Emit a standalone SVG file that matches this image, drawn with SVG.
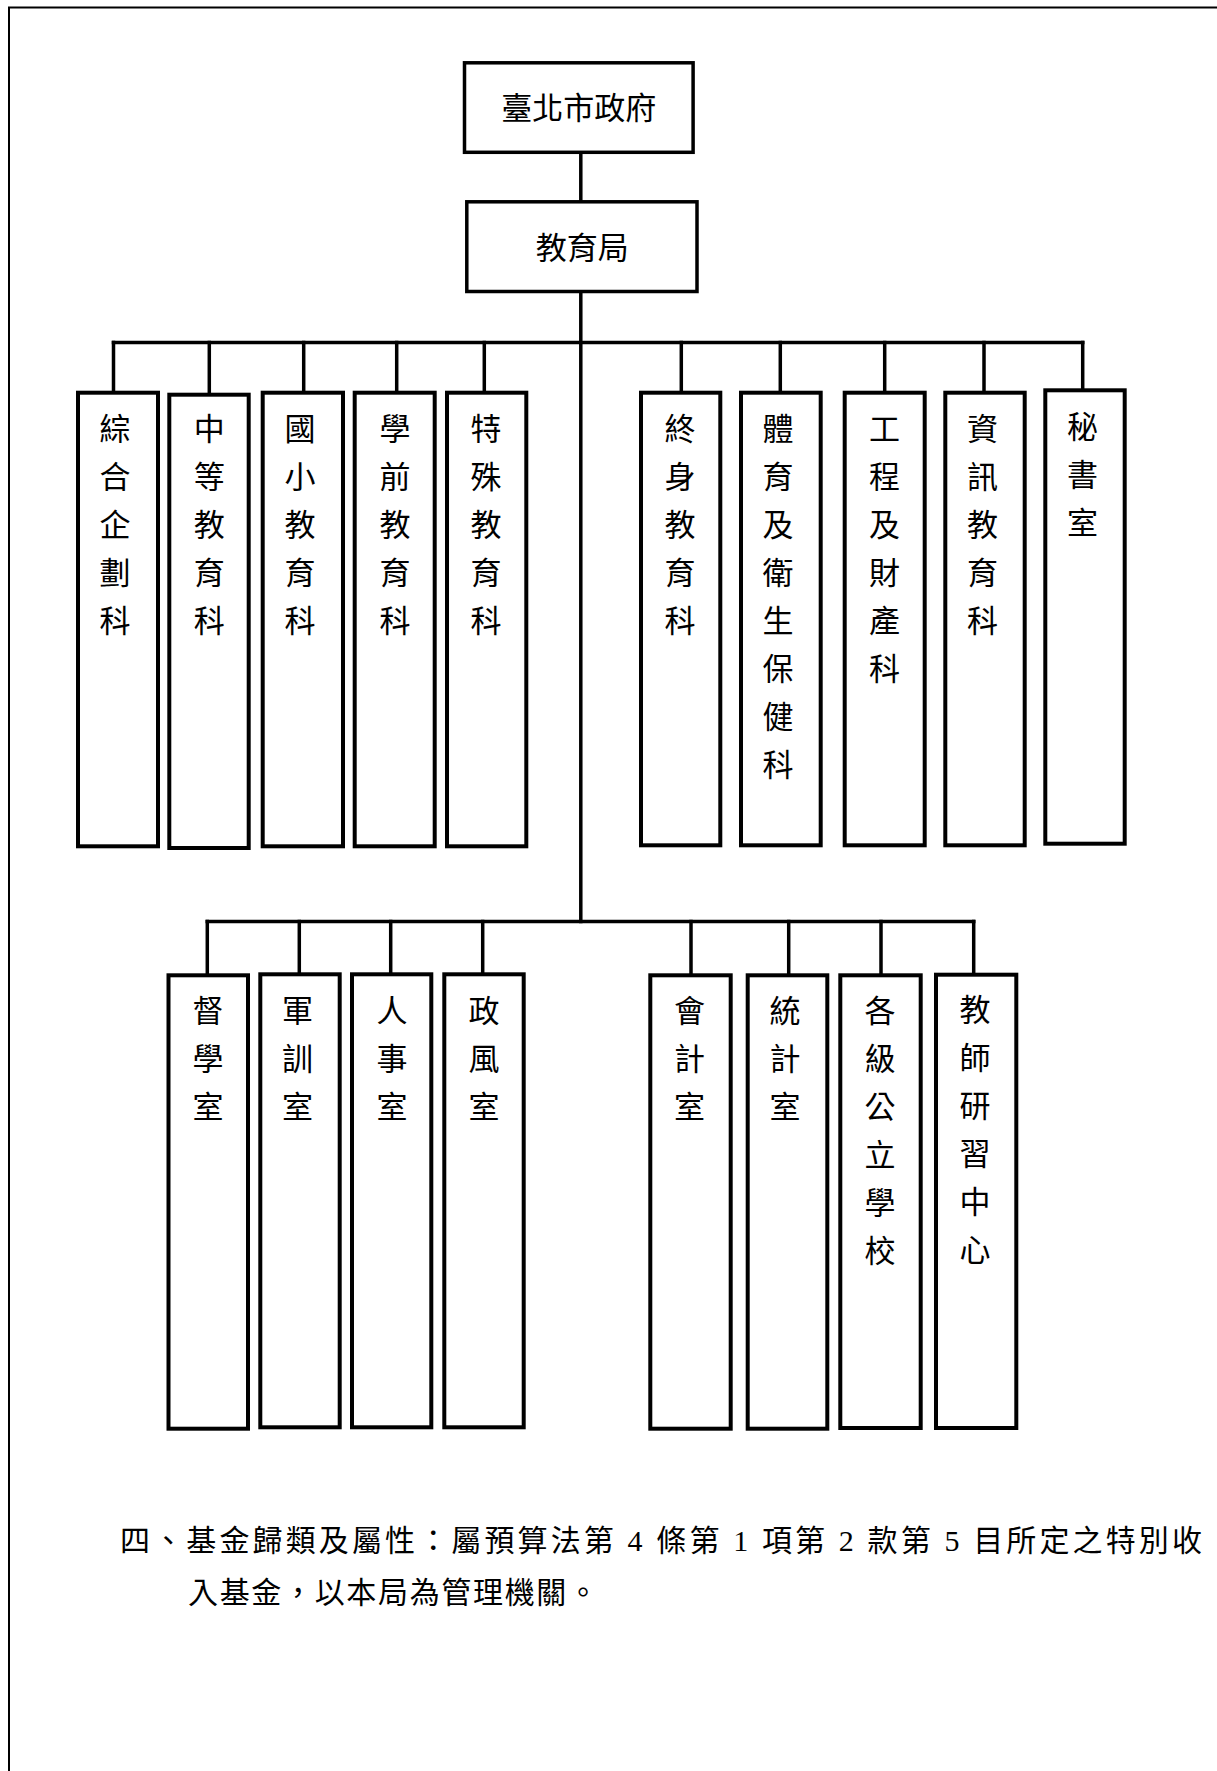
<svg xmlns="http://www.w3.org/2000/svg" width="1217" height="1771" viewBox="0 0 1217 1771">
<style>
.box{fill:#fff;stroke:#000;stroke-width:4}
.top{fill:#fff;stroke:#000;stroke-width:3.5}
.conn{fill:none;stroke:#000;stroke-width:3.5;stroke-linecap:square}
.lbl{font-family:"Noto Sans CJK TC","Noto Sans CJK SC",sans-serif;font-size:31px;fill:#000;text-anchor:middle}
.para{font-family:"Liberation Serif","Noto Sans CJK TC",serif;font-size:30px;fill:#000}
</style>
<rect width="1217" height="1771" fill="#fff"/>
<path d="M9 1771 V7.5 H1217" fill="none" stroke="#000" stroke-width="2"/>

<g id="connectors">
<path class="conn" d="M580.8 154 V200"/>
<path class="conn" d="M580.8 293 V921.5"/>
<path class="conn" d="M113.5 342.5 H1082.7"/>
<path class="conn" d="M113.5 342.5 V391 M209.3 342.5 V393 M303.7 342.5 V391 M396.7 342.5 V391 M484.3 342.5 V391 M681.3 342.5 V391 M780.3 342.5 V391 M884.7 342.5 V391 M984 342.5 V391 M1082.7 342.5 V389"/>
<path class="conn" d="M207.3 921.5 H973.7"/>
<path class="conn" d="M207.3 921.5 V973 M299.3 921.5 V972 M390.7 921.5 V972 M482.7 921.5 V972 M691 921.5 V973 M788.7 921.5 V973 M881 921.5 V973 M973.7 921.5 V973"/>
</g>

<g id="taipei">
<rect class="top" x="464.5" y="62.8" width="228.6" height="89.5"/>
<text class="lbl" x="578.7" y="119.3">臺北市政府</text>
</g>
<g id="edu-bureau">
<rect class="top" x="466.8" y="201.8" width="230.2" height="89.7"/>
<text class="lbl" x="582.3" y="258.5">教育局</text>
</g>

<g id="n1">
<rect class="box" x="78" y="392.7" width="80" height="453.6"/>
<text class="lbl" y="439.8"><tspan x="115">綜</tspan><tspan x="115" dy="48">合</tspan><tspan x="115" dy="48">企</tspan><tspan x="115" dy="48">劃</tspan><tspan x="115" dy="48">科</tspan></text>
</g>
<g id="n2">
<rect class="box" x="169.3" y="394.7" width="79.4" height="453.3"/>
<text class="lbl" y="439.8"><tspan x="209.3">中</tspan><tspan x="209.3" dy="48">等</tspan><tspan x="209.3" dy="48">教</tspan><tspan x="209.3" dy="48">育</tspan><tspan x="209.3" dy="48">科</tspan></text>
</g>
<g id="n3">
<rect class="box" x="262.7" y="392.7" width="80.3" height="453.6"/>
<text class="lbl" y="439.8"><tspan x="300">國</tspan><tspan x="300" dy="48">小</tspan><tspan x="300" dy="48">教</tspan><tspan x="300" dy="48">育</tspan><tspan x="300" dy="48">科</tspan></text>
</g>
<g id="n4">
<rect class="box" x="354.7" y="392.7" width="80" height="453.6"/>
<text class="lbl" y="439.8"><tspan x="395">學</tspan><tspan x="395" dy="48">前</tspan><tspan x="395" dy="48">教</tspan><tspan x="395" dy="48">育</tspan><tspan x="395" dy="48">科</tspan></text>
</g>
<g id="n5">
<rect class="box" x="447" y="392.7" width="79.3" height="453.6"/>
<text class="lbl" y="439.8"><tspan x="486">特</tspan><tspan x="486" dy="48">殊</tspan><tspan x="486" dy="48">教</tspan><tspan x="486" dy="48">育</tspan><tspan x="486" dy="48">科</tspan></text>
</g>
<g id="n6">
<rect class="box" x="641" y="392.7" width="79.3" height="452.6"/>
<text class="lbl" y="439.8"><tspan x="680">終</tspan><tspan x="680" dy="48">身</tspan><tspan x="680" dy="48">教</tspan><tspan x="680" dy="48">育</tspan><tspan x="680" dy="48">科</tspan></text>
</g>
<g id="n7">
<rect class="box" x="741" y="392.7" width="79.7" height="452.6"/>
<text class="lbl" y="439.8"><tspan x="778">體</tspan><tspan x="778" dy="48">育</tspan><tspan x="778" dy="48">及</tspan><tspan x="778" dy="48">衛</tspan><tspan x="778" dy="48">生</tspan><tspan x="778" dy="48">保</tspan><tspan x="778" dy="48">健</tspan><tspan x="778" dy="48">科</tspan></text>
</g>
<g id="n8">
<rect class="box" x="844.7" y="392.7" width="80" height="452.6"/>
<text class="lbl" y="439.8"><tspan x="884.5">工</tspan><tspan x="884.5" dy="48">程</tspan><tspan x="884.5" dy="48">及</tspan><tspan x="884.5" dy="48">財</tspan><tspan x="884.5" dy="48">產</tspan><tspan x="884.5" dy="48">科</tspan></text>
</g>
<g id="n9">
<rect class="box" x="945.3" y="392.7" width="79.4" height="452.6"/>
<text class="lbl" y="439.8"><tspan x="982.5">資</tspan><tspan x="982.5" dy="48">訊</tspan><tspan x="982.5" dy="48">教</tspan><tspan x="982.5" dy="48">育</tspan><tspan x="982.5" dy="48">科</tspan></text>
</g>
<g id="n10">
<rect class="box" x="1045.3" y="390.3" width="79.4" height="453.4"/>
<text class="lbl" y="437.8"><tspan x="1082.5">秘</tspan><tspan x="1082.5" dy="48">書</tspan><tspan x="1082.5" dy="48">室</tspan></text>
</g>

<g id="m1">
<rect class="box" x="168.5" y="975.3" width="79.5" height="453.4"/>
<text class="lbl" y="1022.3"><tspan x="208">督</tspan><tspan x="208" dy="48">學</tspan><tspan x="208" dy="48">室</tspan></text>
</g>
<g id="m2">
<rect class="box" x="260.3" y="974.3" width="79.4" height="453"/>
<text class="lbl" y="1022.3"><tspan x="297.5">軍</tspan><tspan x="297.5" dy="48">訓</tspan><tspan x="297.5" dy="48">室</tspan></text>
</g>
<g id="m3">
<rect class="box" x="352" y="974.3" width="79.3" height="453"/>
<text class="lbl" y="1022.3"><tspan x="392">人</tspan><tspan x="392" dy="48">事</tspan><tspan x="392" dy="48">室</tspan></text>
</g>
<g id="m4">
<rect class="box" x="444.3" y="974.3" width="79.4" height="453"/>
<text class="lbl" y="1022.3"><tspan x="484">政</tspan><tspan x="484" dy="48">風</tspan><tspan x="484" dy="48">室</tspan></text>
</g>
<g id="m5">
<rect class="box" x="650.3" y="975.3" width="80.4" height="453.4"/>
<text class="lbl" y="1022.3"><tspan x="689.5">會</tspan><tspan x="689.5" dy="48">計</tspan><tspan x="689.5" dy="48">室</tspan></text>
</g>
<g id="m6">
<rect class="box" x="747.7" y="975.3" width="79.6" height="453.4"/>
<text class="lbl" y="1022.3"><tspan x="785">統</tspan><tspan x="785" dy="48">計</tspan><tspan x="785" dy="48">室</tspan></text>
</g>
<g id="m7">
<rect class="box" x="840.3" y="975.3" width="80.4" height="452.7"/>
<text class="lbl" y="1022.3"><tspan x="880">各</tspan><tspan x="880" dy="48">級</tspan><tspan x="880" dy="48">公</tspan><tspan x="880" dy="48">立</tspan><tspan x="880" dy="48">學</tspan><tspan x="880" dy="48">校</tspan></text>
</g>
<g id="m8">
<rect class="box" x="936" y="974.7" width="80.3" height="453.3"/>
<text class="lbl" y="1021.3"><tspan x="975">教</tspan><tspan x="975" dy="48">師</tspan><tspan x="975" dy="48">研</tspan><tspan x="975" dy="48">習</tspan><tspan x="975" dy="48">中</tspan><tspan x="975" dy="48">心</tspan></text>
</g>

<text class="para" x="120" y="1551.4" textLength="1082" lengthAdjust="spacing">四、基金歸類及屬性：屬預算法第 4 條第 1 項第 2 款第 5 目所定之特別收</text>
<text class="para" x="188" y="1603" textLength="410" lengthAdjust="spacing">入基金，以本局為管理機關。</text>
</svg>
